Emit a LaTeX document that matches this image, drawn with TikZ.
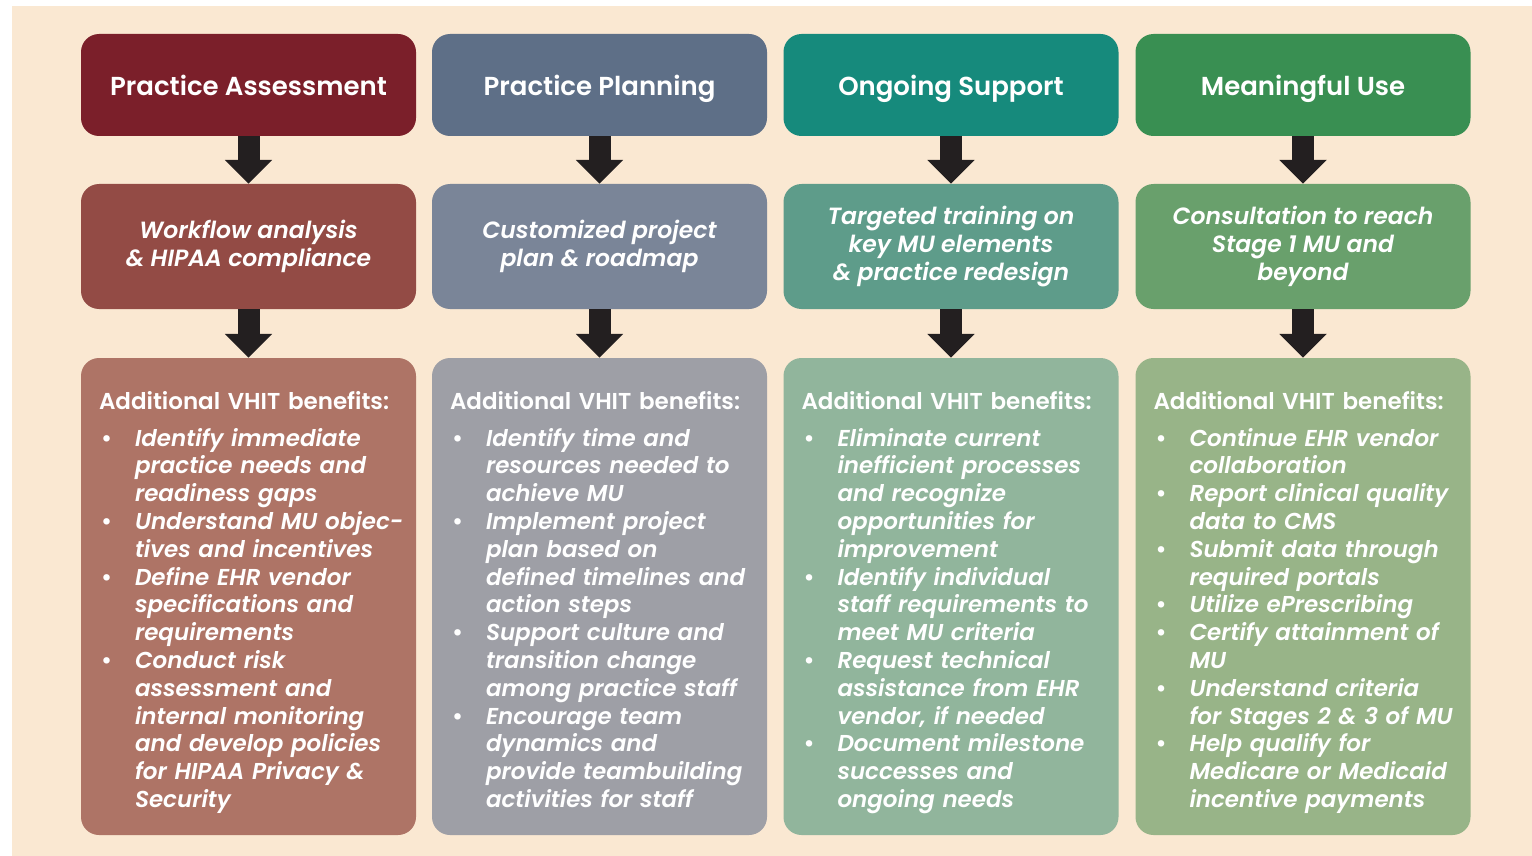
\documentclass[tikz,border=0pt]{standalone}
\usepackage{fontspec}
\setmainfont{Poppins}[BoldFont={Poppins SemiBold}, ItalicFont={Poppins Italic}, BoldItalicFont={Poppins SemiBold Italic}]
\usetikzlibrary{arrows.meta, positioning}

\definecolor{bgpeach}{HTML}{FAE8D2}
\definecolor{redA}{HTML}{7B1F2A}
\definecolor{redB}{HTML}{934B45}
\definecolor{redC}{HTML}{AE7466}
\definecolor{blueA}{HTML}{5E6F87}
\definecolor{blueB}{HTML}{7A8598}
\definecolor{blueC}{HTML}{9E9FA6}
\definecolor{tealA}{HTML}{168A7C}
\definecolor{tealB}{HTML}{5E9C8A}
\definecolor{tealC}{HTML}{91B59C}
\definecolor{greenA}{HTML}{398F52}
\definecolor{greenB}{HTML}{69A06C}
\definecolor{greenC}{HTML}{98B488}
\definecolor{arrowblack}{HTML}{231F20}

\newcommand{\vitem}[1]{\hangindent=36pt\hangafter=1\noindent\makebox[36pt][l]{\hspace{2pt}\textbf{\textbullet}}{\let\\\newline\itshape #1}\par}
\newcommand{\vhead}{\noindent\textbf{Additional VHIT benefits:}\par\vspace{9.2pt}}

\begin{document}
\begin{tikzpicture}[x = 1pt, y = -1pt,
	phase/.style = {rectangle, rounded corners = 18pt, minimum width = 335pt, minimum height = 102pt, text height = 26pt, text depth = 4pt, text = white, font = \bfseries\fontsize{26}{30}\selectfont},
	focus/.style = {rectangle, rounded corners = 18pt, minimum width = 335pt, minimum height = 125pt, text = white, align = center, font = \bfseries\itshape\fontsize{23.5}{28}\selectfont, execute at begin node = \rule{0pt}{24pt}},
	benefit/.style = {rectangle, rounded corners = 18pt, minimum width = 335pt, minimum height = 477pt},
	bulletlist/.style = {anchor = north west, inner sep = 0pt, text width = 330pt, text = white, font = \bfseries\fontsize{23}{27.8}\selectfont\raggedright},
	blockarrow/.style = {draw = arrowblack, line width = 22pt, -{Triangle[width = 46pt, length = 24pt]}, arrowblack}]

	\useasboundingbox (0, 0) rectangle (1532, 856);
	\fill[white] (0, 0) rectangle (1532, 856);
	\fill[bgpeach] (12, 6) rectangle (1532, 856);

	% phases
	\node[phase, fill = redA] (assess) at (248.5, 85) {Practice Assessment};
	\node[phase, fill = blueA] (plan) at (599.5, 85) {Practice Planning};
	\node[phase, fill = tealA] (support) at (951, 85) {Ongoing Support};
	\node[phase, fill = greenA] (mu) at (1303, 85) {Meaningful Use};

	% focus of each phase
	\node[focus, fill = redB] (workflow) at (248.5, 246.5) {Workflow analysis\\\& HIPAA compliance};
	\node[focus, fill = blueB] (roadmap) at (599.5, 246.5) {Customized project\\plan \& roadmap};
	\node[focus, fill = tealB] (training) at (951, 246.5) {Targeted training on\\key MU elements\\\& practice redesign};
	\node[focus, fill = greenB] (consult) at (1303, 246.5) {Consultation to reach\\Stage 1 MU and\\beyond};

	% benefits
	\node[benefit, fill = redC] (assessben) at (248.5, 596.5) {};
	\node[benefit, fill = blueC] (planben) at (599.5, 596.5) {};
	\node[benefit, fill = tealC] (supportben) at (951, 596.5) {};
	\node[benefit, fill = greenC] (muben) at (1303, 596.5) {};

	\node[bulletlist] (assesslist) at ([shift = {(18, 33)}] assessben.north west) {\vhead
		\vitem{Identify immediate\\practice needs and\\readiness gaps}
		\vitem{Understand MU objec-\\tives and incentives}
		\vitem{Define EHR vendor\\specifications and\\requirements}
		\vitem{Conduct risk\\assessment and\\internal monitoring\\and develop policies\\for HIPAA Privacy \&\\Security}};
	\node[bulletlist] (planlist) at ([shift = {(18, 33)}] planben.north west) {\vhead
		\vitem{Identify time and\\resources needed to\\achieve MU}
		\vitem{Implement project\\plan based on\\defined timelines and\\action steps}
		\vitem{Support culture and\\transition change\\among practice staff}
		\vitem{Encourage team\\dynamics and\\provide teambuilding\\activities for staff}};
	\node[bulletlist] (supportlist) at ([shift = {(18, 33)}] supportben.north west) {\vhead
		\vitem{Eliminate current\\inefficient processes\\and recognize\\opportunities for\\improvement}
		\vitem{Identify individual\\staff requirements to\\meet MU criteria}
		\vitem{Request technical\\assistance from EHR\\vendor, if needed}
		\vitem{Document milestone\\successes and\\ongoing needs}};
	\node[bulletlist] (mulist) at ([shift = {(18, 33)}] muben.north west) {\vhead
		\vitem{Continue EHR vendor\\collaboration}
		\vitem{Report clinical quality\\data to CMS}
		\vitem{Submit data through\\required portals}
		\vitem{Utilize ePrescribing}
		\vitem{Certify attainment of\\MU}
		\vitem{Understand criteria\\for Stages 2 \& 3 of MU}
		\vitem{Help qualify for\\Medicare or Medicaid\\incentive payments}};

	% arrows
	\draw[blockarrow] (assess.south) -- (workflow.north);
	\draw[blockarrow] (plan.south) -- (roadmap.north);
	\draw[blockarrow] (support.south) -- (training.north);
	\draw[blockarrow] (mu.south) -- (consult.north);
	\draw[blockarrow] (workflow.south) -- (assessben.north);
	\draw[blockarrow] (roadmap.south) -- (planben.north);
	\draw[blockarrow] (training.south) -- (supportben.north);
	\draw[blockarrow] (consult.south) -- (muben.north);

\end{tikzpicture}
\end{document}
